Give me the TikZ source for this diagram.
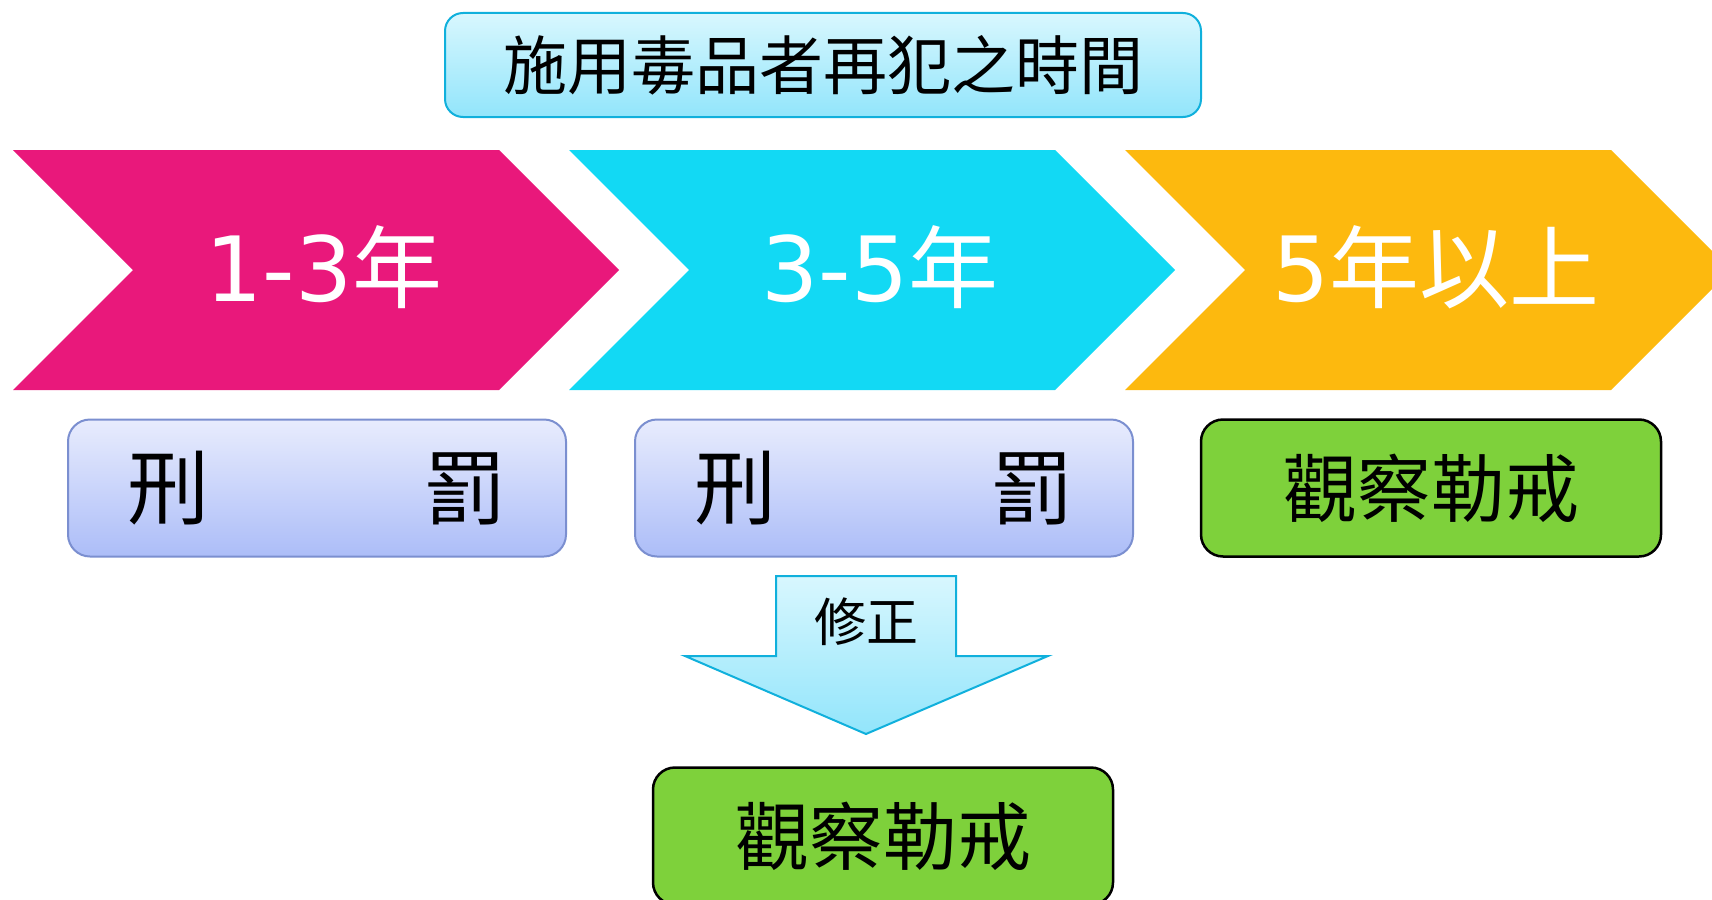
\documentclass[tikz,border=0pt]{standalone}
\usepackage{fontspec}
\setmainfont{Noto Sans CJK TC}
\newfontfamily\digitfont{DejaVu Sans}
\usetikzlibrary{positioning}

\definecolor{pinkc}{RGB}{233,24,123}
\definecolor{cyanc}{RGB}{18,217,244}
\definecolor{orangec}{RGB}{253,185,14}
\definecolor{greenc}{RGB}{126,209,59}
\definecolor{skytop}{RGB}{216,247,254}
\definecolor{skybot}{RGB}{146,229,251}
\definecolor{skyline}{RGB}{16,176,220}
\definecolor{lavtop}{RGB}{232,236,253}
\definecolor{lavbot}{RGB}{172,189,248}
\definecolor{lavline}{RGB}{123,143,208}

\begin{document}
\begin{tikzpicture}[x=1pt, y=-1pt,
    yeartext/.style={text=white, font=\fontsize{90}{96}\selectfont},
    penalty/.style={rectangle, rounded corners=22pt, draw=lavline, line width=2pt,
      top color=lavtop, bottom color=lavbot, minimum width=498pt, minimum height=137pt,
      font=\fontsize{82}{88}\selectfont},
    observe/.style={rectangle, rounded corners=22pt, draw=black, line width=2.5pt,
      fill=greenc, minimum width=460pt, minimum height=137pt,
      font=\fontsize{74}{80}\selectfont}]
    \clip (0,0) rectangle (1712,899);
    \useasboundingbox (0,0) rectangle (1712,899);

    % title
    \node (title) [rectangle, rounded corners=18pt, draw=skyline, line width=2pt,
      top color=skytop, bottom color=skybot, minimum width=756pt, minimum height=104pt,
      font=\fontsize{64}{70}\selectfont] at (823,65) {施用毒品者再犯之時間};

    % chevrons
    \foreach \i/\c/\t in {0/pinkc/{{\digitfont 1-3}年}, 1/cyanc/{{\digitfont 3-5}年},
        2/orangec/{{\digitfont 5}年以上}} {
        \fill[\c] ({13+556*\i},150) -- ++(486,0) -- ++(120,120) -- ++(-120,120)
            -- ++(-486,0) -- ++(120,-120) -- cycle;
        \node (yr\i) [yeartext] at ({324+556*\i},267) {\t};
    }

    % boxes
    \node (pen1) [penalty] at (317,488) {刑\hspace{215pt}罰};
    \node (pen2) [penalty, right=67pt of pen1] {刑\hspace{215pt}罰};
    \node (obs1) [observe] at (1431,488) {觀察勒戒};

    % down arrow
    \path[draw=skyline, line width=2pt, top color=skytop, bottom color=skybot]
        (776,576) -- (956,576) -- (956,656) -- (1048,656) -- (866,734)
        -- (685,656) -- (776,656) -- cycle;
    \node (fix) [font=\fontsize{52}{56}\selectfont] at (866,622) {修正};

    \node (obs2) [observe] at (883,836) {觀察勒戒};
\end{tikzpicture}
\end{document}
